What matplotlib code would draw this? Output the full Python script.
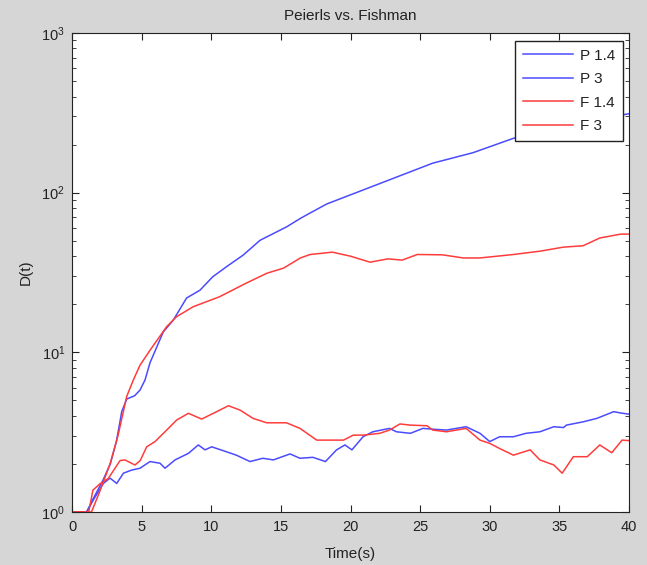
import matplotlib.pyplot as plt
from matplotlib.ticker import LogLocator, NullFormatter

plt.rcParams['font.family'] = ['Liberation Sans', 'DejaVu Sans']

# Peierls, gamma = 1.4
p14_t = [0, 1.05, 1.5, 2.25, 2.75, 3.2, 3.57, 3.93, 4.5, 4.88, 5.24, 5.6, 6.55, 7.27, 8.23,
         9.19, 10.1, 11.1, 12.3, 13.5, 15.4, 16.4, 17.1, 18.3, 21.4, 25.9, 28.8, 31.7, 35.0, 38.0, 40]
p14_d = [1, 1, 1.2, 1.6, 2.0, 2.8, 4.25, 5.1, 5.35, 5.8, 6.7, 8.6, 13.4, 15.9, 21.9,
         24.5, 29.7, 34.4, 40.7, 50.3, 61, 69, 74.6, 85, 108, 153, 178, 219, 255, 292, 312]

# Peierls, gamma = 3
p3_t = [0, 1.05, 1.53, 2.25, 2.73, 3.21, 3.69, 4.28, 4.88, 5.6, 6.32, 6.68, 7.4, 8.36, 9.07,
        9.55, 10.03, 10.87, 11.8, 12.78, 13.7, 14.46, 15.66, 16.37, 17.3, 18.2, 19.0, 19.6,
        20.1, 20.9, 21.6, 22.8, 23.3, 24.3, 25.2, 25.9, 26.9, 27.6, 28.3, 29.3, 30.0, 30.7,
        31.7, 32.6, 33.6, 34.6, 35.3, 35.5, 36.7, 37.7, 38.9, 39.4, 40]
p3_d = [1, 1, 1.19, 1.51, 1.63, 1.51, 1.75, 1.83, 1.88, 2.07, 2.02, 1.88, 2.12, 2.33, 2.63,
        2.45, 2.56, 2.42, 2.27, 2.07, 2.17, 2.12, 2.31, 2.17, 2.2, 2.07, 2.45, 2.63,
        2.45, 2.96, 3.18, 3.34, 3.18, 3.11, 3.34, 3.3, 3.26, 3.34, 3.42, 3.11, 2.76, 2.96,
        2.96, 3.11, 3.18, 3.42, 3.38, 3.5, 3.67, 3.86, 4.25, 4.17, 4.1]

# Fishman, gamma = 1.4
f14_t = [0, 1.4, 2.0, 2.73, 3.3, 3.93, 4.4, 4.88, 5.6, 6.8, 7.5, 8.7, 10.6, 12.5, 14.0, 15.2,
         16.4, 17.1, 18.7, 20.0, 21.4, 22.7, 23.7, 24.8, 26.6, 28.1, 29.3, 31.7, 33.6, 35.3,
         36.7, 37.9, 39.4, 40]
f14_d = [1, 1, 1.35, 2.0, 3.0, 5.3, 6.7, 8.3, 10.3, 14.5, 16.7, 19.3, 22.3, 27.1, 31.3, 33.7,
         39, 41, 42.4, 40, 36.7, 38.5, 37.8, 41, 40.8, 39, 39, 41, 43, 45.6,
         46.5, 52, 55, 55]

# Fishman, gamma = 3
f3_t = [0, 1.2, 1.5, 2.0, 2.6, 3.45, 3.8, 4.52, 4.9, 5.36, 5.96, 6.8, 7.52, 8.36, 9.31, 10.39,
        11.23, 12.06, 13.0, 13.98, 15.4, 16.37, 17.57, 19.5, 20.2, 20.9, 22.1, 22.8, 23.55,
        24.3, 25.5, 25.9, 26.9, 27.6, 28.3, 29.3, 30.0, 30.7, 31.7, 32.9, 33.6, 34.6, 35.2,
        36.0, 37.0, 37.9, 38.76, 39.5, 40]
f3_d = [1, 1, 1.37, 1.5, 1.62, 2.1, 2.12, 1.97, 2.1, 2.56, 2.76, 3.26, 3.77, 4.15, 3.82, 4.25,
        4.63, 4.35, 3.86, 3.62, 3.62, 3.34, 2.82, 2.82, 3.03, 3.03, 3.11, 3.26, 3.56,
        3.5, 3.47, 3.26, 3.18, 3.26, 3.34, 2.82, 2.69, 2.5, 2.27, 2.45, 2.12, 1.97, 1.75,
        2.22, 2.22, 2.63, 2.35, 2.82, 2.8]

blue = '#4b4bff'
red = '#ff3c3c'
fs = 10.5

fig = plt.figure(figsize=(6.47, 5.65), dpi=100, facecolor='#d6d6d6')
ax = fig.add_axes([0.1113, 0.0938, 0.8609, 0.8478])

ax.plot(p14_t, p14_d, color=blue, lw=1.1, label='P 1.4')
ax.plot(p3_t, p3_d, color=blue, lw=1.1, label='P 3')
ax.plot(f14_t, f14_d, color=red, lw=1.1, label='F 1.4')
ax.plot(f3_t, f3_d, color=red, lw=1.1, label='F 3')

ax.set_yscale('log')
ax.set_xlim(0, 40)
ax.set_ylim(1, 1000)
ax.set_xticks(range(0, 41, 5))
ax.yaxis.set_minor_locator(LogLocator(base=10, subs=range(2, 10)))
ax.yaxis.set_minor_formatter(NullFormatter())
ax.tick_params(which='both', direction='in', top=True, right=True, labelsize=fs,
               color='#222222', labelcolor='#222222')
ax.tick_params(which='major', length=5)
ax.tick_params(which='minor', length=3)
ax.tick_params(axis='x', pad=6)
ax.tick_params(axis='y', pad=5)
for s in ax.spines.values():
    s.set_color('#222222')

ax.set_title('Peierls vs. Fishman', fontsize=fs + 0.5, pad=9, color='#222222')
ax.set_xlabel('Time(s)', fontsize=fs + 0.5, labelpad=9, color='#222222')
ax.set_ylabel('D(t)', fontsize=fs + 0.5, labelpad=6, color='#222222')

leg = ax.legend(loc='upper right', bbox_to_anchor=(0.989, 0.983), fontsize=fs + 0.5,
                fancybox=False, framealpha=1, edgecolor='#222222', handlelength=3.3,
                borderaxespad=0, labelspacing=0.62, handletextpad=0.45, borderpad=0.5)
leg.get_frame().set_linewidth(1)
for t in leg.get_texts():
    t.set_color('#222222')

fig.savefig('out.png', dpi=100, facecolor=fig.get_facecolor())
